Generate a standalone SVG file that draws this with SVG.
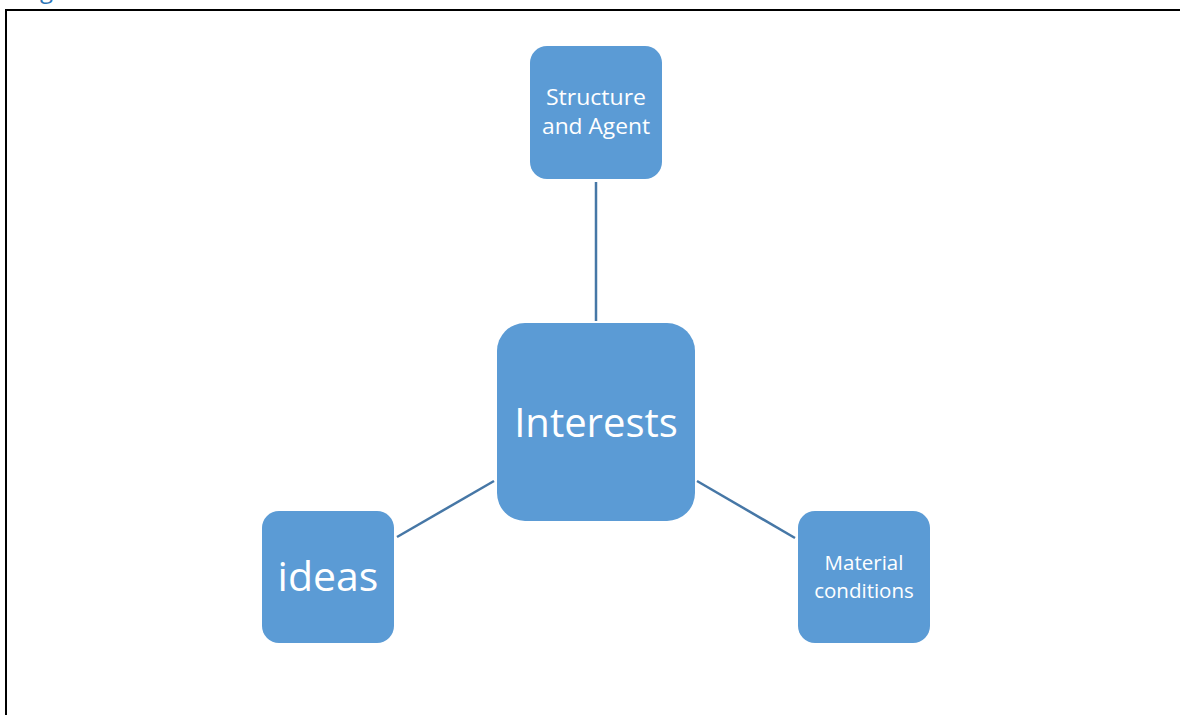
<svg xmlns="http://www.w3.org/2000/svg" width="1180" height="715" viewBox="0 0 1180 715">
<style>
.node{fill:#5B9BD5;}
.lbl{fill:#ffffff;font-family:"Open Sans","Liberation Sans",sans-serif;text-anchor:middle;}
.conn{stroke:#4677A6;stroke-width:2.5;fill:none;}
</style>
<rect width="1180" height="715" fill="#ffffff"/>
<text x="40" y="-2" font-family="Open Sans, Liberation Sans, sans-serif" font-size="24" fill="#2E74B5">g</text>
<path d="M6,715 V10 H1180" fill="none" stroke="#000000" stroke-width="2"/>
<g id="connectors">
<line class="conn" x1="596" y1="182" x2="596" y2="321"/>
<line class="conn" x1="397" y1="537" x2="494" y2="481"/>
<line class="conn" x1="697" y1="481" x2="795" y2="538"/>
</g>
<g id="node-structure">
<rect class="node" x="530" y="46" width="132" height="133" rx="17"/>
<text class="lbl" x="596" y="105" font-size="22" textLength="100" lengthAdjust="spacingAndGlyphs">Structure</text>
<text class="lbl" x="596" y="134" font-size="22" textLength="108" lengthAdjust="spacingAndGlyphs">and Agent</text>
</g>
<g id="node-interests">
<rect class="node" x="497" y="323" width="198" height="198" rx="28"/>
<text class="lbl" x="596" y="437" font-size="40">Interests</text>
</g>
<g id="node-ideas">
<rect class="node" x="262" y="511" width="132" height="132" rx="17"/>
<text class="lbl" x="328" y="591" font-size="41">ideas</text>
</g>
<g id="node-material">
<rect class="node" x="798" y="511" width="132" height="132" rx="17"/>
<text class="lbl" x="864" y="570" font-size="20.5">Material</text>
<text class="lbl" x="864" y="598" font-size="20.5">conditions</text>
</g>
</svg>
